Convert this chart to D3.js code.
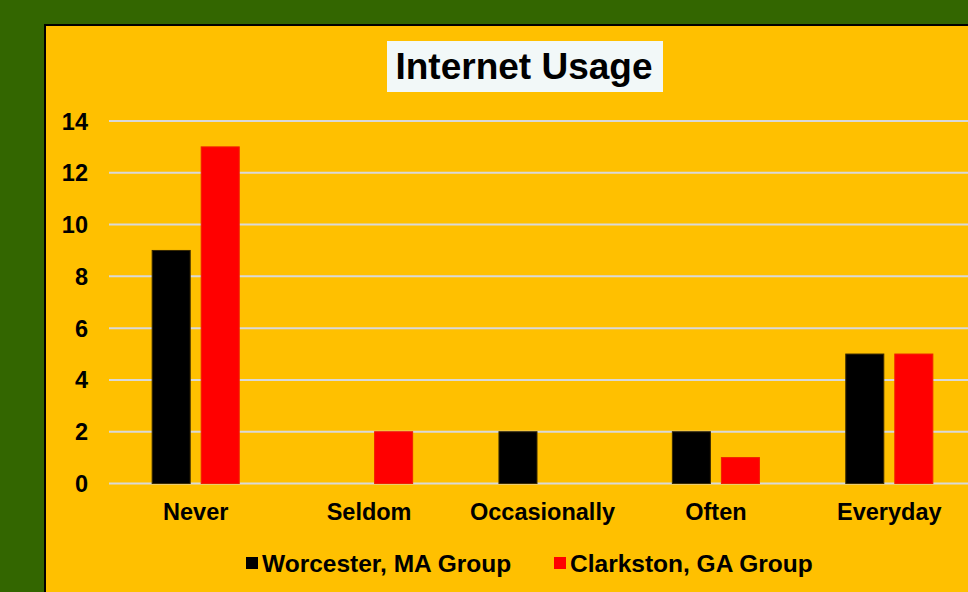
<!doctype html>
<html lang="en">
<head>
<meta charset="utf-8">
<title>Internet Usage</title>
<script src="https://d3js.org/d3.v7.min.js"></script>
<style>
  body { margin: 0; background: #336600; overflow: hidden; }
  text { font-family: "Liberation Sans", Arial, sans-serif; font-weight: bold; }
</style>
</head>
<body>
<script>
// chart data
var categories = ['Never', 'Seldom', 'Occasionally', 'Often', 'Everyday'];
var seriesNames = ['Worcester, MA Group', 'Clarkston, GA Group'];
var worcester = [9, 0, 2, 2, 5];
var clarkston = [13, 2, 0, 1, 5];
var yTicks = [0, 2, 4, 6, 8, 10, 12, 14];
var seriesColors = ['#000000', '#ff0000'];

var width = 968,
    height = 592;

var svg = d3.select('body')
  .append('svg')
  .attr('width', width)
  .attr('height', height);

// orange panel with black frame
svg.append('rect')
  .attr('x', 45).attr('y', 25)
  .attr('width', 940).attr('height', 600)
  .attr('fill', '#ffc000')
  .attr('stroke', '#000')
  .attr('stroke-width', 2);

var x0 = d3.scaleBand()
  .domain(categories)
  .range([109, 976])
  .padding(0);

var x1 = d3.scaleBand()
  .domain(seriesNames)
  .range([0, x0.bandwidth()])
  .paddingInner(0.2245)
  .paddingOuter(0.88);

var y = d3.scaleLinear()
  .domain([0, 14])
  .range([483.5, 121]);

// gridlines
svg.append('g')
  .selectAll('line')
  .data(yTicks)
  .enter()
  .append('line')
  .attr('x1', 109)
  .attr('x2', width)
  .attr('y1', d => y(d))
  .attr('y2', d => y(d))
  .attr('stroke', '#d9d9d9')
  .attr('stroke-width', 2);

// y tick labels
svg.append('g')
  .selectAll('text')
  .data(yTicks)
  .enter()
  .append('text')
  .attr('x', 88)
  .attr('y', d => y(d) + 8.5)
  .attr('text-anchor', 'end')
  .attr('font-size', 23.5)
  .text(d => d);

// bars
var rows = categories.map((c, i) => ({ cat: c, vals: [worcester[i], clarkston[i]] }));

var groups = svg.append('g')
  .selectAll('g')
  .data(rows)
  .enter()
  .append('g')
  .attr('transform', d => 'translate(' + x0(d.cat) + ',0)');

groups.selectAll('rect')
  .data(d => d.vals.map((v, j) => ({ name: seriesNames[j], value: v, j: j })))
  .enter()
  .filter(d => d.value > 0)
  .append('rect')
  .attr('x', d => x1(d.name))
  .attr('width', x1.bandwidth())
  .attr('y', d => y(d.value))
  .attr('height', d => y(0) - y(d.value))
  .attr('fill', d => seriesColors[d.j])
  .attr('stroke', d => d.j === 0 ? '#3a2a00' : '#f02000')
  .attr('stroke-width', 1);

// category labels
svg.append('g')
  .selectAll('text')
  .data(categories)
  .enter()
  .append('text')
  .attr('x', d => x0(d) + x0.bandwidth() / 2)
  .attr('y', 520)
  .attr('text-anchor', 'middle')
  .attr('font-size', 23.5)
  .text(d => d);

// title
svg.append('rect')
  .attr('x', 387).attr('y', 41)
  .attr('width', 276).attr('height', 51)
  .attr('fill', '#f2f8f8');

svg.append('text')
  .attr('x', 524)
  .attr('y', 78.5)
  .attr('text-anchor', 'middle')
  .attr('font-size', 37)
  .text('Internet Usage');

// legend
var legendX = [246, 554];
var legend = svg.append('g')
  .selectAll('g')
  .data(seriesNames)
  .enter()
  .append('g')
  .attr('transform', (d, i) => 'translate(' + legendX[i] + ',0)');

legend.append('rect')
  .attr('x', 0).attr('y', 557)
  .attr('width', 12).attr('height', 12)
  .attr('fill', (d, i) => seriesColors[i]);

legend.append('text')
  .attr('x', 16)
  .attr('y', 571.5)
  .attr('font-size', 24.5)
  .text(d => d);
</script>
</body>
</html>
